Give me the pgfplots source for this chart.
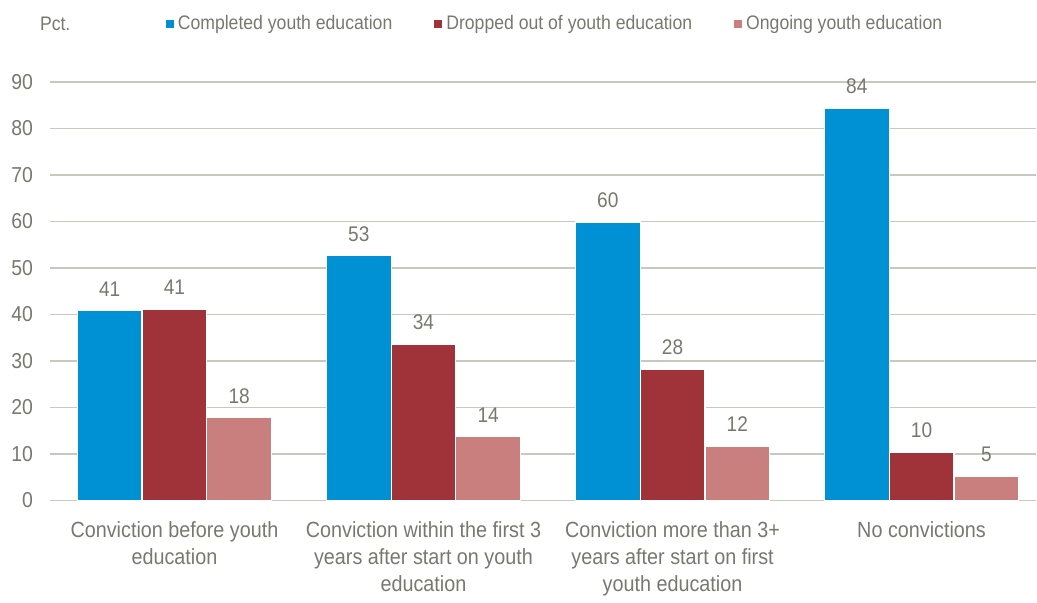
\documentclass[border=0pt]{standalone}
\usepackage{fontspec}
\setmainfont[FakeStretch=0.9]{Liberation Sans}
\usepackage{pgfplots}
\pgfplotsset{compat=1.18}

\definecolor{cblue}{HTML}{0090D4}
\definecolor{cred}{HTML}{A0323A}
\definecolor{cpink}{HTML}{C87F7E}
\definecolor{txtgray}{RGB}{120,120,110}
\definecolor{gridgray}{RGB}{200,200,190}

\begin{document}
\begin{tikzpicture}
\begin{axis}[
    scale only axis,
    width=493.5pt, height=209.5pt,
    font=\fontsize{9.8}{13.5}\selectfont,
    ybar=0pt,
    bar width=32.4pt,
    xmin=-0.5, xmax=3.46,
    ymin=0, ymax=90,
    axis line style={draw=none},
    ytick={0,10,...,90},
    ymajorgrids,
    grid style={gridgray, line width=0.9pt},
    xtick={0,1,2,3},
    xticklabels={{Conviction before youth\\education},
                 {Conviction within the first 3\\years after start on youth\\education},
                 {Conviction more than 3+\\years after start on first\\youth education},
                 {No convictions}},
    xticklabel style={align=center, text=txtgray, yshift=-7pt,
        font=\fontsize{11}{13.5}\selectfont},
    yticklabel style={text=txtgray, xshift=-5pt, font=\fontsize{10.8}{12}\selectfont},
    major tick length=0pt,
    tick style={draw=none},
    /pgf/number format/assume math mode=true,
    every axis plot/.append style={draw=white, line width=0.6pt},
    nodes near coords={\pgfmathprintnumber[fixed,precision=0]{\pgfplotspointmeta}},
    every node near coord/.append style={text=txtgray, yshift=3.5pt, font=\fontsize{10.6}{12}\selectfont},
    legend style={draw=none, fill=none, at={(rel axis cs:0.111,1)}, anchor=west,
        yshift=29pt, legend columns=-1, text=txtgray,
        /tikz/every even column/.append style={column sep=19pt}},
    legend image code/.code={\fill[#1, draw=none] (0pt,-2pt) rectangle (4pt,2pt);},
    clip=false,
]
\addplot[fill=cblue] coordinates {(0,40.9) (1,52.6) (2,59.9) (3,84.4)};
\addlegendentry{Completed youth education}
\addplot[fill=cred] coordinates {(0,41.2) (1,33.6) (2,28.3) (3,10.4)};
\addlegendentry{Dropped out of youth education}
\addplot[fill=cpink] coordinates {(0,17.8) (1,13.8) (2,11.7) (3,5.2)};
\addlegendentry{Ongoing youth education}
\node[anchor=west, text=txtgray, font=\fontsize{9.8}{12}\selectfont] at ([xshift=-8.5pt,yshift=29pt]rel axis cs:0,1) {Pct.};
\coordinate (tl) at (rel axis cs:0,1);
\coordinate (br) at (rel axis cs:1,0);
\end{axis}
\path ([shift={(-25pt,41pt)}]tl) rectangle ([shift={(0pt,-49pt)}]br);
\end{tikzpicture}
\end{document}
